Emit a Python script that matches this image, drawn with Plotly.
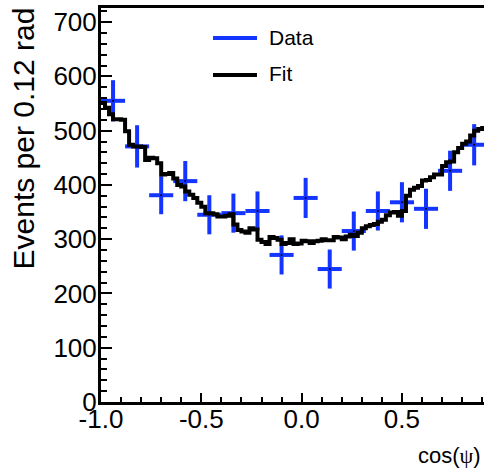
import plotly.graph_objects as go

# ---- data ----
data_x = [-0.94, -0.82, -0.70, -0.58, -0.46, -0.34, -0.22, -0.10,
          0.02, 0.14, 0.26, 0.38, 0.50, 0.62, 0.74, 0.86]
data_y = [555, 471, 381, 407, 345, 348, 352, 271,
          376, 245, 315, 352, 368, 356, 426, 474]
data_err = [38, 39, 35, 37, 36, 36, 36, 36,
            37, 36, 36, 36, 37, 37, 37, 38]
data_halfwidth = 0.06

fit_lo = -1.0
fit_binw = 0.02
fit_vals = [551, 542, 530, 521, 521, 520, 499, 474, 471, 471,
            470, 446, 450, 449, 440, 419, 420, 422, 412, 400,
            397, 388, 382, 376, 367, 360, 348, 348, 346, 342,
            342, 343, 346, 327, 317, 314, 312, 320, 318, 299,
            295, 291, 304, 302, 299, 291, 293, 300, 291, 292,
            297, 296, 293, 296, 297, 300, 298, 298, 304, 303,
            300, 305, 308, 306, 312, 320, 324, 326, 328, 332,
            336, 344, 349, 350, 343, 352, 380, 391, 395, 398,
            408, 409, 414, 419, 419, 435, 442, 443, 460, 468,
            476, 480, 491, 500, 503, 505]

x_tickvals = [-1.0, -0.5, 0.0, 0.5]
x_ticktext = ["-1.0", "-0.5", "0.0", "0.5"]
y_tickvals = [0, 100, 200, 300, 400, 500, 600, 700]

BLUE = "rgb(20,52,255)"
FONT = "Liberation Sans, Arial, Helvetica, sans-serif"

fit_x = [fit_lo + fit_binw * i for i in range(len(fit_vals) + 1)]
fit_y = list(fit_vals) + [fit_vals[-1]]

fig = go.Figure()
fig.add_trace(go.Scatter(
    x=data_x, y=data_y, mode="markers", name="Data",
    marker=dict(color="black", size=2),
    error_y=dict(type="data", array=data_err, color=BLUE, thickness=4, width=0),
    error_x=dict(type="constant", value=data_halfwidth, color=BLUE, thickness=4, width=0),
    showlegend=False,
))
fig.add_trace(go.Scatter(
    x=fit_x, y=fit_y, mode="lines", line_shape="hv", name="Fit",
    line=dict(color="black", width=4), showlegend=False,
))

W, H = 484, 471
L, R, T, B = 101, 0, 8, 69
pw, ph = W - L - R, H - T - B

def px(xp):
    return (xp - L) / pw

def py(yp):
    return (H - B - yp) / ph

# legend (drawn manually)
fig.add_shape(type="line", xref="paper", yref="paper",
              x0=px(213), x1=px(257), y0=py(38), y1=py(38),
              line=dict(color=BLUE, width=4))
fig.add_shape(type="line", xref="paper", yref="paper",
              x0=px(213), x1=px(257), y0=py(75), y1=py(75),
              line=dict(color="black", width=4))
fig.add_annotation(text="Data", xref="paper", yref="paper", x=px(267), y=py(37),
                   xanchor="left", yanchor="middle", showarrow=False,
                   font=dict(family=FONT, size=21, color="black"))
fig.add_annotation(text="Fit", xref="paper", yref="paper", x=px(267), y=py(74),
                   xanchor="left", yanchor="middle", showarrow=False,
                   font=dict(family=FONT, size=21, color="black"))

# axis titles
fig.add_annotation(text='cos(<span style="font-family:Liberation Serif, Times New Roman, serif">ψ</span>)',
                   xref="paper", yref="paper", x=px(483), y=py(455),
                   xanchor="right", yanchor="middle", showarrow=False,
                   font=dict(family=FONT, size=22, color="black"))
fig.add_annotation(text="Events per 0.12 rad", xref="paper", yref="paper",
                   x=px(23), y=py(138.5), textangle=-90,
                   xanchor="center", yanchor="middle", showarrow=False,
                   font=dict(family=FONT, size=30, color="black"))

fig.update_layout(
    width=W, height=H,
    margin=dict(l=L, r=R, t=T, b=B, pad=0, autoexpand=False),
    paper_bgcolor="white", plot_bgcolor="white",
    font=dict(family=FONT, size=26, color="black"),
    xaxis=dict(range=[-1.0, 0.909], tickvals=x_tickvals, ticktext=x_ticktext,
               ticks="inside", ticklen=9, tickwidth=2, tickcolor="black",
               showline=True, linewidth=3, linecolor="black", mirror=True,
               showgrid=False, zeroline=False, automargin=False,
               ticklabelstandoff=-8,
               minor=dict(dtick=0.1, ticks="inside", ticklen=5, tickwidth=2,
                          tickcolor="black", showgrid=False),
               tickfont=dict(family=FONT, size=26)),
    yaxis=dict(range=[0, 726], tickvals=y_tickvals,
               ticks="inside", ticklen=11, tickwidth=2, tickcolor="black",
               showline=True, linewidth=3, linecolor="black",
               showgrid=False, zeroline=False, automargin=False,
               ticklabelstandoff=-4,
               minor=dict(dtick=20, ticks="inside", ticklen=6, tickwidth=2,
                          tickcolor="black", showgrid=False),
               tickfont=dict(family=FONT, size=26)),
)

fig.write_html(
    "out.html",
    config={"displayModeBar": False},
    post_script="document.body.style.margin='0';document.body.style.overflow='hidden';",
)
